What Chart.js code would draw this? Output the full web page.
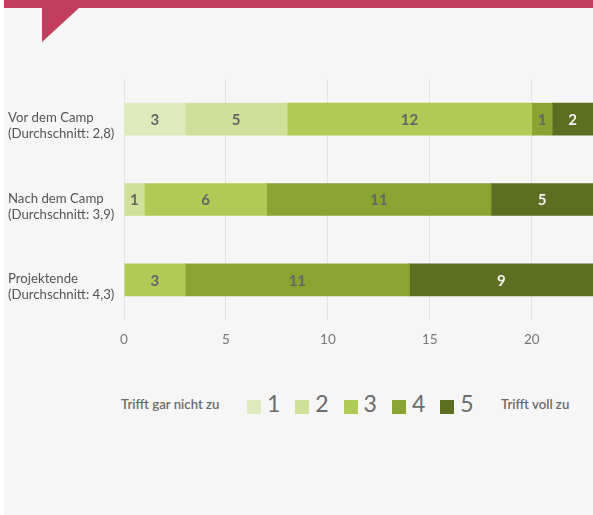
<!DOCTYPE html>
<html>
<head>
<meta charset="utf-8">
<script src="https://cdn.jsdelivr.net/npm/chart.js@4.4.1/dist/chart.umd.min.js"></script>
<style>
  body { margin: 0; background: #ffffff; font-family: Lato, "Open Sans", sans-serif; }
  #page { position: absolute; left: 4px; top: 0; width: 589px; height: 515px; background: #f6f6f6; overflow: hidden; }
  #topbar { position: absolute; left: 0; top: 0; width: 589px; height: 8px; background: #c23d5e; }
  #flag { position: absolute; left: 38px; top: 8px; width: 0; height: 0;
          border-top: 34px solid #c23d5e; border-right: 37px solid transparent; }
  #wrap { position: absolute; left: 0; top: 0; width: 593px; height: 360px; }
  .lg { position: absolute; color: #6b6b6b; white-space: nowrap; }
  .lg-end { font-size: 13.2px; font-weight: 600; top: 396px; }
  .box { position: absolute; top: 400px; width: 14px; height: 14px; }
  .num { position: absolute; top: 390px; font-size: 23px; line-height: 26px; }
</style>
</head>
<body>
<div id="page">
  <div id="topbar"></div>
  <div id="flag"></div>
</div>
<div id="wrap"><canvas id="myChart" width="593" height="360"></canvas></div>
<div id="legend"></div>

<script>
// rows of the survey
const labels = [
    ['Vor dem Camp', '(Durchschnitt: 2,8)'],
    ['Nach dem Camp', '(Durchschnitt: 3,9)'],
    ['Projektende', '(Durchschnitt: 4,3)']
];

// answers per scale point (1 = trifft gar nicht zu ... 5 = trifft voll zu)
const answers1 = [3, 0, 0];
const answers2 = [5, 1, 0];
const answers3 = [12, 6, 3];
const answers4 = [1, 11, 11];
const answers5 = [2, 5, 9];

const scalePoints = ['1', '2', '3', '4', '5'];
const colors = ['#dfebbd', '#cfe09a', '#afca55', '#8aa432', '#5b6e22'];
const labelColors = ['#666666', '#666666', '#666666', '#666666', '#f2f2f2'];
const xTicks = [0, 5, 10, 15, 20];

const allAnswers = [answers1, answers2, answers3, answers4, answers5];

// numbers inside the bars
const barValues = {
    id: 'barValues',
    afterDatasetsDraw(chart) {
        const c = chart.ctx;
        c.save();
        c.font = 'bold 15px Lato, sans-serif';
        c.textAlign = 'center';
        c.textBaseline = 'middle';
        chart.data.datasets.forEach((ds, i) => {
            chart.getDatasetMeta(i).data.forEach((bar, j) => {
                if (!ds.data[j]) return;
                c.fillStyle = labelColors[i];
                c.fillText(ds.data[j], (bar.x + bar.base) / 2, bar.y + 1);
            });
        });
        c.restore();
    }
};

// left side labels, two lines each
const rowLabels = {
    id: 'rowLabels',
    afterDraw(chart) {
        const c = chart.ctx;
        const y = chart.scales.y;
        c.save();
        c.font = '13.2px Lato, sans-serif';
        c.fillStyle = '#555555';
        c.textAlign = 'left';
        c.textBaseline = 'middle';
        labels.forEach((lines, i) => {
            const py = y.getPixelForTick(i);
            c.fillText(lines[0], 8, py - 1);
            c.fillText(lines[1], 8, py + 15);
        });
        c.restore();
    }
};

const myChart = new Chart(document.getElementById('myChart'), {
    type: 'bar',
    data: {
        labels: labels,
        datasets: allAnswers.map((d, i) => ({
            label: scalePoints[i],
            data: d,
            backgroundColor: colors[i],
            borderWidth: 0,
            barThickness: 32
        }))
    },
    options: {
        indexAxis: 'y',
        responsive: false,
        animation: false,
        layout: { padding: { top: 79, left: 8, right: 0, bottom: 0 } },
        plugins: {
            legend: { display: false },
            tooltip: { enabled: false }
        },
        scales: {
            x: {
                stacked: true,
                min: 0,
                max: 23,
                afterBuildTicks: (scale) => {
                    scale.ticks = xTicks.map(v => ({ value: v }));
                },
                grid: { color: '#e4e4e4', drawTicks: false },
                border: { display: false },
                ticks: {
                    color: '#777777',
                    padding: 12,
                    font: { family: 'Lato, sans-serif', size: 13.5 }
                },
                afterFit: (scale) => { scale.height = 40; }
            },
            y: {
                stacked: true,
                grid: { display: false },
                border: { display: false },
                ticks: { display: false },
                afterFit: (scale) => { scale.width = 116; }
            }
        }
    },
    plugins: [barValues, rowLabels]
});

// legend below the chart
const legend = document.getElementById('legend');
let html = '<span class="lg lg-end" style="left:121px">Trifft gar nicht zu</span>';
scalePoints.forEach((p, i) => {
    const x = 247 + i * 48.3;
    html += '<span class="box" style="left:' + x + 'px;background:' + colors[i] + '"></span>';
    html += '<span class="lg num" style="left:' + (x + 20) + 'px">' + p + '</span>';
});
html += '<span class="lg lg-end" style="left:501px">Trifft voll zu</span>';
legend.innerHTML = html;
</script>
</body>
</html>
